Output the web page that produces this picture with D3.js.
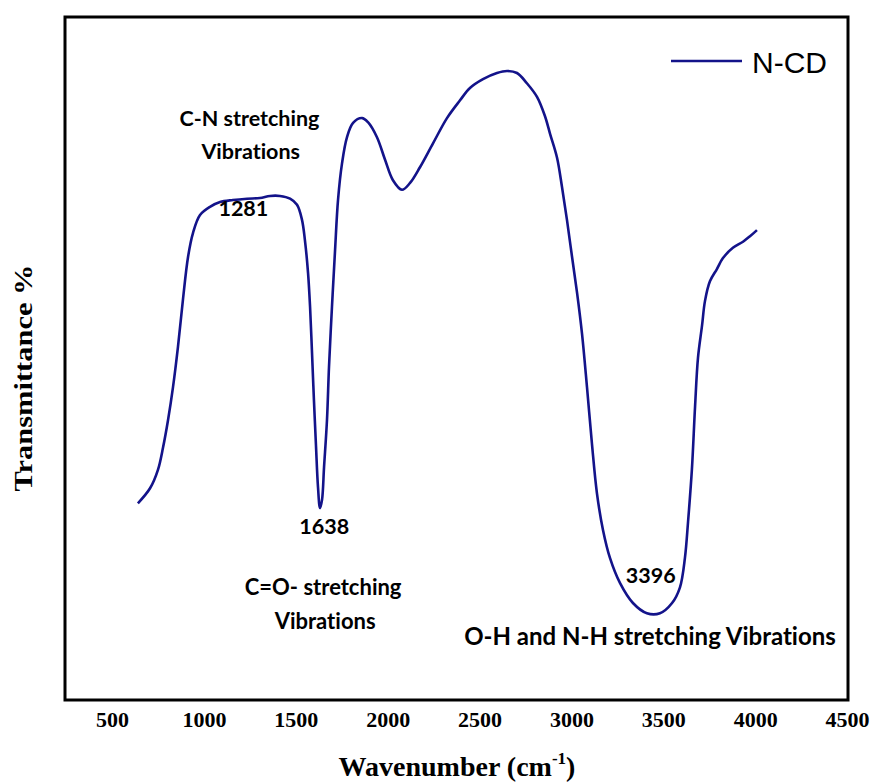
<!DOCTYPE html>
<html><head><meta charset="utf-8">
<script src="https://cdn.jsdelivr.net/npm/d3@7"></script>
<style>body{margin:0;background:#fff}svg{display:block}</style>
</head><body>
<script>
// Wavenumber (cm-1) and transmittance (arbitrary %, axis unlabeled)
const wavenumber = [641,707,750,778,805,832,859,886,914,941,979,1033,1088,1158,1235,1305,1360,1414,1469,1507,1534,1550,1567,1578,1589,1599,1610,1621,1632,1643,1654,1670,1681,1697,1714,1730,1752,1779,1812,1861,1893,1942,1986,2029,2078,2122,2176,2247,2323,2394,2448,2519,2595,2650,2704,2758,2813,2856,2884,2922,2949,2976,3003,3031,3058,3085,3112,3139,3172,3210,3265,3335,3411,3482,3548,3591,3618,3635,3656,3673,3689,3711,3727,3754,3792,3825,3879,3934,3972,4010];
const transmittance = [28.8,31.0,33.7,37.0,41.0,45.8,51.7,58.6,64.9,68.4,71.0,72.2,72.9,73.2,73.4,73.5,73.8,73.8,73.4,72.5,70.3,67.3,62.5,57.5,50.5,43.9,37.3,31.2,28.1,29.3,34.1,41.0,48.8,57.5,65.9,73.2,78.6,82.4,84.5,85.2,84.6,82.4,79.1,76.1,74.7,75.7,78.0,81.5,85.2,87.8,89.6,90.9,91.8,92.1,91.8,90.3,88.3,85.5,82.9,79.4,75.1,70.3,65.0,59.6,53.6,45.8,37.5,30.3,24.9,20.8,17.1,14.2,12.7,12.7,14.2,16.5,20.8,26.1,33.8,42.9,50.1,54.8,58.4,61.3,63.1,64.7,66.2,67.1,67.9,68.8];
const xTicks = [500,1000,1500,2000,2500,3000,3500,4000,4500];
const seriesName = "N-CD";
const annotations = [
  {text:"C-N stretching", wn:1248, t:84.1},
  {text:"Vibrations", wn:1255, t:79.2},
  {text:"1281", wn:1215, t:70.8},
  {text:"1638", wn:1655, t:24.3},
  {text:"C=O- stretching", wn:1649, t:15.4},
  {text:"Vibrations", wn:1660, t:10.4},
  {text:"3396", wn:3432, t:17.1},
  {text:"O-H and N-H stretching Vibrations", wn:3428, t:8.1}
];

const W = 873, H = 782;
const svg = d3.select("body").append("svg").attr("width", W).attr("height", H);

const x = d3.scaleLinear().domain([500, 4500]).range([112, 847]);
const y = d3.scaleLinear().domain([0, 100]).range([700, 17]);

// frame
svg.append("rect").attr("x", 65).attr("y", 17).attr("width", 848-65).attr("height", 700-17)
  .attr("fill", "none").attr("stroke", "#000").attr("stroke-width", 3);

// x tick labels via axis
const xAxis = d3.axisBottom(x).tickValues(xTicks).tickSize(0).tickPadding(0).tickFormat(d3.format("d"));
const gx = svg.append("g").attr("transform", "translate(0,711)").call(xAxis);
gx.select(".domain").remove();
gx.selectAll("text").attr("font-family", "'Liberation Serif', 'Times New Roman', serif")
  .attr("font-weight", "bold").attr("font-size", 22).attr("fill", "#000").attr("dy", "0.71em");

// line
const line = d3.line().x((d, i) => x(wavenumber[i])).y(d => y(d)).curve(d3.curveCatmullRom.alpha(0.5));
svg.append("path").datum(transmittance).attr("d", line)
  .attr("fill", "none").attr("stroke", "#13138a").attr("stroke-width", 2.6).attr("stroke-linejoin", "round");

// annotations
svg.append("g").selectAll("text").data(annotations).join("text")
  .attr("x", d => x(d.wn)).attr("y", d => y(d.t))
  .attr("text-anchor", "middle")
  .attr("font-family", "Lato, 'Open Sans', sans-serif").attr("font-weight", "bold")
  .attr("font-size", (d, i) => i === annotations.length - 1 ? 24 : (i === 4 || i === 5 ? 22 : 21.5))
  .style("font-variant-ligatures", "none").style("font-feature-settings", "'liga' 0")
  .attr("fill", "#000").text(d => d.text);

// legend
svg.append("line").attr("x1", 671).attr("x2", 742).attr("y1", 61).attr("y2", 61)
  .attr("stroke", "#13138a").attr("stroke-width", 2.6);
svg.append("text").attr("x", 752).attr("y", 73).attr("font-family", "'Liberation Sans', Arial, sans-serif")
  .attr("font-size", 30).attr("fill", "#000").text(seriesName);

// axis titles
const xt = svg.append("text").attr("x", 457).attr("y", 776).attr("text-anchor", "middle")
  .attr("font-family", "'Liberation Serif', 'Times New Roman', serif").attr("font-weight", "bold").attr("font-size", 28);
xt.append("tspan").text("Wavenumber (cm");
xt.append("tspan").attr("font-size", 17).attr("dy", -12).text("-1");
xt.append("tspan").attr("dy", 12).text(")");

svg.append("text").attr("transform", "translate(32,378) rotate(-90)").attr("text-anchor", "middle")
  .attr("font-family", "'Liberation Serif', 'Times New Roman', serif").attr("font-weight", "bold").attr("font-size", 26)
  .attr("textLength", 227).attr("lengthAdjust", "spacingAndGlyphs")
  .text("Transmittance %");
</script>
</body></html>
